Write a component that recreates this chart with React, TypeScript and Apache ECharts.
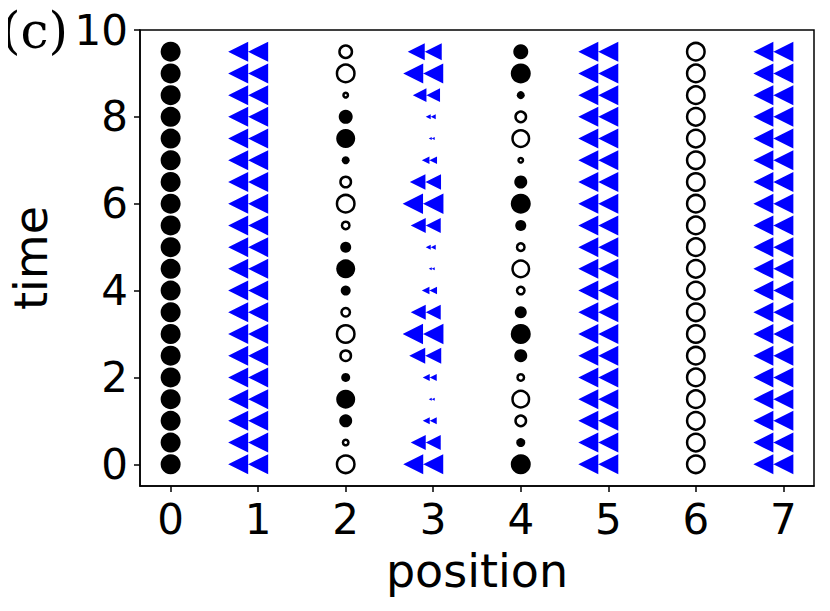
import React, { useEffect, useRef } from "react";
import * as echarts from "echarts";

// time steps (y) and positions (x)
const times = [0, 0.5, 1, 1.5, 2, 2.5, 3, 3.5, 4, 4.5, 5, 5.5, 6, 6.5, 7, 7.5, 8, 8.5, 9, 9.5];
const xTicks = [0, 1, 2, 3, 4, 5, 6, 7];
const yTicks = [0, 2, 4, 6, 8, 10];

// signed amplitudes at circle positions (t = 0 .. 9.5): + filled, - hollow
const pos0 = [1, 1, 1, 1, 1, 1, 1, 1, 1, 1, 1, 1, 1, 1, 1, 1, 1, 1, 1, 1];
const pos2 = [-1, -0.4, 0.65, 0.95, 0.45, -0.65, -1, -0.55, 0.5, 0.95, 0.55, -0.5, -1, -0.65, 0.4, 0.95, 0.7, -0.35, -1, -0.75];
const pos4 = [1, 0.45, -0.65, -0.95, -0.45, 0.65, 1, 0.6, -0.5, -0.95, -0.5, 0.55, 1, 0.65, -0.35, -0.95, -0.65, 0.4, 1, 0.75];
const pos6 = [-1, -1, -1, -1, -1, -1, -1, -1, -1, -1, -1, -1, -1, -1, -1, -1, -1, -1, -1, -1];

// amplitudes at triangle positions (t = 0 .. 9.5)
const pos1 = [1, 1, 1, 1, 1, 1, 1, 1, 1, 1, 1, 1, 1, 1, 1, 1, 1, 1, 1, 1];
const pos3 = [1, 0.75, 0.35, 0.15, 0.35, 0.8, 1.02, 0.75, 0.38, 0.15, 0.25, 0.75, 1.02, 0.78, 0.38, 0.15, 0.25, 0.68, 1, 0.85];
const pos5 = [1, 1, 1, 1, 1, 1, 1, 1, 1, 1, 1, 1, 1, 1, 1, 1, 1, 1, 1, 1];
const pos7 = [1, 1, 1, 1, 1, 1, 1, 1, 1, 1, 1, 1, 1, 1, 1, 1, 1, 1, 1, 1];

const circleCols: [number, number[]][] = [
  [0, pos0],
  [2, pos2],
  [4, pos4],
  [6, pos6],
];
const triCols: [number, number[]][] = [
  [1, pos1],
  [3, pos3],
  [5, pos5],
  [7, pos7],
];

const FULL = 20;
const DOUBLE_TRI = "path://M0,10L20,0L20,20ZM20,10L40,0L40,20Z";

export default function App() {
  const ref = useRef<HTMLDivElement>(null);
  useEffect(() => {
    if (!ref.current) return;
    const chart = echarts.init(ref.current, null, { renderer: "svg" });

    const filledData: any[] = [];
    const hollowData: any[] = [];
    circleCols.forEach(([x, amps]) => {
      amps.forEach((a, i) => {
        const d = Math.abs(a) * FULL;
        if (a >= 0) {
          filledData.push({ value: [x, times[i]], symbolSize: d });
        } else {
          hollowData.push({ value: [x, times[i]], symbolSize: Math.max(d - 2.5, 2) });
        }
      });
    });
    const triData: any[] = [];
    triCols.forEach(([x, amps]) => {
      amps.forEach((a, i) => {
        const h = Math.abs(a) * FULL;
        triData.push({ value: [x, times[i]], symbolSize: [2 * h, h], symbolOffset: [-h / 2, 0] });
      });
    });

    const axisLine = { show: true, onZero: false, lineStyle: { color: "#000", width: 1.5 } };
    chart.setOption({
      animation: false,
      grid: { left: 138, top: 30, right: 16, bottom: 125, show: true, borderColor: "#000", borderWidth: 1.5 },
      xAxis: {
        type: "value",
        min: -0.35,
        max: 7.35,
        name: "position",
        nameLocation: "middle",
        nameGap: 62,
        nameTextStyle: { fontFamily: "DejaVu Sans", fontSize: 46, color: "#000" },
        axisLine,
        splitLine: { show: false },
        axisTick: { show: true, customValues: xTicks, length: 6, lineStyle: { color: "#000", width: 1.5 } },
        axisLabel: { customValues: xTicks, fontFamily: "DejaVu Sans", fontSize: 42, color: "#000", margin: 12 },
      },
      yAxis: {
        type: "value",
        min: -0.5,
        max: 10,
        name: "time",
        nameLocation: "middle",
        nameGap: 86,
        nameRotate: 90,
        nameTextStyle: { fontFamily: "DejaVu Sans", fontSize: 46, color: "#000" },
        axisLine,
        splitLine: { show: false },
        axisTick: { show: true, customValues: yTicks, length: 6, lineStyle: { color: "#000", width: 1.5 } },
        axisLabel: { customValues: yTicks, fontFamily: "DejaVu Sans", fontSize: 42, color: "#000", margin: 12 },
      },
      graphic: [
        {
          type: "text",
          left: 1,
          top: 6,
          style: { text: "(c)", font: "50px 'DejaVu Serif', 'Liberation Serif', serif", fill: "#000" },
        },
      ],
      series: [
        {
          type: "scatter",
          data: filledData,
          symbol: "circle",
          itemStyle: { color: "#000", opacity: 1 },
          z: 3,
        },
        {
          type: "scatter",
          data: hollowData,
          symbol: "circle",
          itemStyle: { color: "#fff", borderColor: "#000", borderWidth: 2.5, opacity: 1 },
          z: 3,
        },
        {
          type: "scatter",
          data: triData,
          symbol: DOUBLE_TRI,
          itemStyle: { color: "#0000ff", opacity: 1 },
          z: 3,
        },
      ],
    });
    return () => chart.dispose();
  }, []);
  return <div ref={ref} style={{ width: 830, height: 611, margin: -8 }} />;
}
